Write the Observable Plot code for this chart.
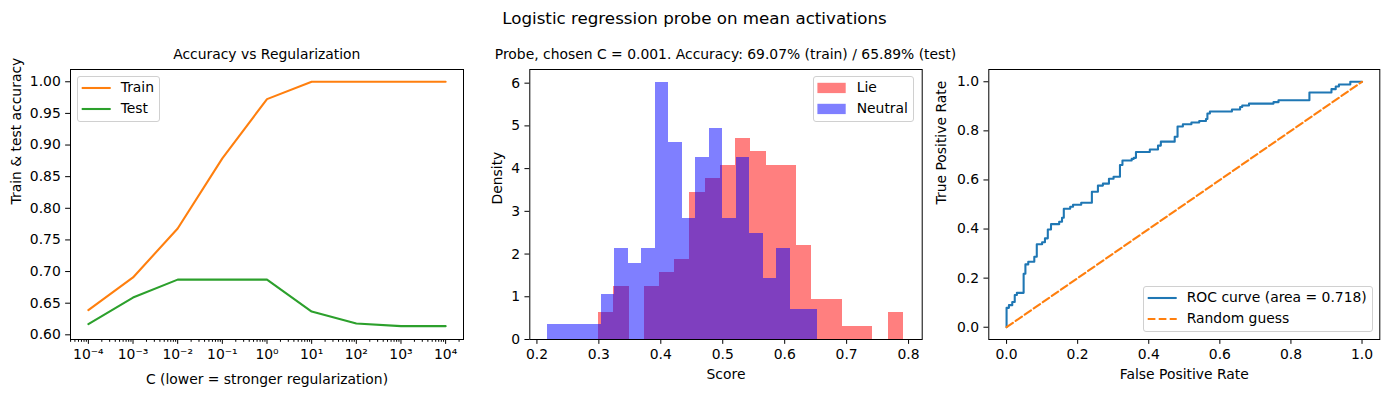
<!DOCTYPE html>
<html><head><meta charset="utf-8">
<script src="https://cdn.jsdelivr.net/npm/d3@7"></script>
<script src="https://cdn.jsdelivr.net/npm/@observablehq/plot@0.6"></script>
<style>
body{margin:0;background:#fff;font-family:"DejaVu Sans",sans-serif;}
#fig{position:relative;width:1389px;height:397px;overflow:hidden;background:#fff;}
#fig svg.panel{position:absolute;top:0;}
.t{position:absolute;white-space:nowrap;line-height:1;color:#000;font-family:"DejaVu Sans",sans-serif;}
.legend{position:absolute;border:1px solid #d0d0d0;border-radius:3px;background:rgba(255,255,255,0.8);box-sizing:border-box;}
</style></head><body><div id="fig"></div>
<script>
// ---------- data ----------
const suptitle = "Logistic regression probe on mean activations";
const panelTitles = ["Accuracy vs Regularization", "Probe, chosen C = 0.001. Accuracy: 69.07% (train) / 65.89% (test)"];

// Panel 1: accuracy vs C
const cValues = [1e-4, 1e-3, 1e-2, 1e-1, 1e0, 1e1, 1e2, 1e3, 1e4];
const trainAcc = [0.639, 0.6907, 0.768, 0.879, 0.9726, 1.0, 1.0, 1.0, 1.0];
const testAcc  = [0.617, 0.6589, 0.6873, 0.6873, 0.6873, 0.6368, 0.6179, 0.6137, 0.6137];
const accTicks = [0.60, 0.65, 0.70, 0.75, 0.80, 0.85, 0.90, 0.95, 1.00];
const accSeries = ["Train", "Test"];

// Panel 2: score histograms (density)
const lieEdges = [0.2995, 0.3241, 0.3487, 0.3733, 0.3979, 0.4225, 0.4471, 0.4717, 0.4963, 0.5209, 0.5455,
                  0.5701, 0.5947, 0.6193, 0.6439, 0.6685, 0.6931, 0.7177, 0.7423, 0.7669, 0.7914];
const lieDensity = [0.63, 1.24, 0, 1.24, 1.57, 1.88, 3.45, 3.77, 4.08, 4.71,
                    4.41, 4.08, 4.08, 2.20, 0.94, 0.94, 0.31, 0.31, 0, 0.63];
const neutralEdges = [0.2166, 0.2384, 0.2602, 0.2820, 0.3038, 0.3256, 0.3474, 0.3692, 0.3910, 0.4128, 0.4346,
                      0.4564, 0.4782, 0.5000, 0.5218, 0.5436, 0.5654, 0.5872, 0.6090, 0.6308, 0.6526];
const neutralDensity = [0.35, 0.35, 0.35, 0.35, 1.06, 2.12, 1.77, 2.12, 6.02, 4.60,
                        2.83, 4.25, 4.95, 2.83, 4.25, 2.48, 1.42, 2.12, 0.71, 0.71];
const scoreTicks = [0.2, 0.3, 0.4, 0.5, 0.6, 0.7, 0.8];
const densityTicks = [0, 1, 2, 3, 4, 5, 6];
const histSeries = ["Lie", "Neutral"];

// Panel 3: ROC
const rocFpr = [0, 0, 0.0066, 0.016, 0.023, 0.029, 0.048, 0.053, 0.061, 0.078, 0.085, 0.100, 0.108, 0.116, 0.125, 0.148,
  0.156, 0.161, 0.179, 0.187, 0.210, 0.240, 0.257, 0.271, 0.288, 0.301, 0.319, 0.326, 0.352, 0.358, 0.364, 0.403,
  0.426, 0.434, 0.473, 0.481, 0.496, 0.520, 0.542, 0.561, 0.565, 0.572, 0.634, 0.657, 0.663, 0.682, 0.751, 0.765,
  0.852, 0.914, 0.926, 0.935, 0.967, 1.0];
const rocTpr = [0, 0.079, 0.090, 0.103, 0.131, 0.140, 0.218, 0.256, 0.267, 0.287, 0.338, 0.346, 0.362, 0.398, 0.420, 0.430,
  0.446, 0.483, 0.491, 0.499, 0.507, 0.552, 0.577, 0.585, 0.605, 0.613, 0.661, 0.679, 0.686, 0.690, 0.714, 0.724,
  0.740, 0.756, 0.776, 0.818, 0.827, 0.834, 0.840, 0.848, 0.871, 0.879, 0.887, 0.897, 0.903, 0.911, 0.917, 0.925,
  0.956, 0.970, 0.981, 0.989, 1.0, 1.0];
const diagX = [0, 1];
const diagY = [0, 1];
const rateTicks = [0, 0.2, 0.4, 0.6, 0.8, 1.0];
const rocSeries = ["ROC curve (area = 0.718)", "Random guess"];

const axisLabels = {
  x1: "C (lower = stronger regularization)", y1: "Train & test accuracy",
  x2: "Score", y2: "Density",
  x3: "False Positive Rate", y3: "True Positive Rate"
};

// ---------- helpers ----------
const C_ORANGE = "#ff7f0e", C_GREEN = "#2ca02c", C_BLUE = "#1f77b4";
const FONT = "DejaVu Sans, sans-serif";
const FS = 13.9;
const baseStyle = {fontFamily: FONT, fontSize: FS + "px", color: "#000", background: "transparent", overflow: "visible"};
const TS = 4.86, TP = 4.86, LW = 2.08, DASH = "7.7,3.3";
const supMap = {"-": "\u207B", "0": "\u2070", "1": "\u00B9", "2": "\u00B2", "3": "\u00B3", "4": "\u2074",
                "5": "\u2075", "6": "\u2076", "7": "\u2077", "8": "\u2078", "9": "\u2079"};
const fmtPow = d => "10" + String(Math.round(Math.log10(d))).split("").map(ch => supMap[ch]).join("");
const minorTicks = [];
for (let k = -5; k <= 4; k++) for (let m = 2; m <= 9; m++) {
  const v = m * Math.pow(10, k);
  if (v > Math.pow(10, -4.4) && v < Math.pow(10, 4.4)) minorTicks.push(v);
}

const fig = document.getElementById("fig");
function place(svg, left) {
  svg.classList.add("panel");
  svg.style.left = left + "px";
  svg.style.position = "absolute";
  svg.style.top = "0px";
  fig.appendChild(svg);
}

// ---------- panel 1 ----------
const accData = cValues.map((c, i) => ({c, train: trainAcc[i], test: testAcc[i]}));
const p1 = Plot.plot({
  width: 480, height: 397, marginLeft: 70, marginRight: 17, marginTop: 69, marginBottom: 58,
  style: baseStyle,
  x: {type: "log", domain: [Math.pow(10, -4.4), Math.pow(10, 4.4)]},
  y: {domain: [0.5926, 1.0194]},
  marks: [
    Plot.axisX(minorTicks, {tickSize: 2.8, tickFormat: () => "", label: null}),
    Plot.axisX(cValues, {tickSize: TS, tickPadding: TP, tickFormat: fmtPow, label: null}),
    Plot.axisY(accTicks, {tickSize: TS, tickPadding: TP, tickFormat: d => d.toFixed(2), label: null}),
    Plot.line(accData, {x: "c", y: "train", stroke: C_ORANGE, strokeWidth: LW}),
    Plot.line(accData, {x: "c", y: "test", stroke: C_GREEN, strokeWidth: LW}),
    Plot.frame({stroke: "#000", strokeWidth: 1}),
    Plot.text([axisLabels.x1], {frameAnchor: "bottom", dy: 40, text: d => d, lineAnchor: "middle"}),
    Plot.text([axisLabels.y1], {frameAnchor: "left", dx: -54, rotate: -90, text: d => d, lineAnchor: "middle"})
  ]
});
place(p1, 0);

// ---------- panel 2 ----------
const toBins = (edges, dens, name) => dens.map((d, i) => ({x1: edges[i], x2: edges[i + 1], d, name}));
const lieBins = toBins(lieEdges, lieDensity, "Lie");
const neutralBins = toBins(neutralEdges, neutralDensity, "Neutral");
const p2 = Plot.plot({
  width: 460, height: 397, marginLeft: 49.3, marginRight: 18.3, marginTop: 69, marginBottom: 58,
  style: baseStyle,
  x: {domain: [0.1885, 0.822]},
  y: {domain: [0, 6.32]},
  marks: [
    Plot.rect(lieBins, {x1: "x1", x2: "x2", y1: 0, y2: "d", fill: "red", fillOpacity: 0.5, shapeRendering: "crispEdges"}),
    Plot.rect(neutralBins, {x1: "x1", x2: "x2", y1: 0, y2: "d", fill: "blue", fillOpacity: 0.5, shapeRendering: "crispEdges"}),
    Plot.axisX(scoreTicks, {tickSize: TS, tickPadding: TP, tickFormat: d => d.toFixed(1), label: null}),
    Plot.axisY(densityTicks, {tickSize: TS, tickPadding: TP, tickFormat: d => String(d), label: null}),
    Plot.frame({stroke: "#000", strokeWidth: 1}),
    Plot.text([axisLabels.x2], {frameAnchor: "bottom", dy: 35, text: d => d, lineAnchor: "middle"}),
    Plot.text([axisLabels.y2], {frameAnchor: "left", dx: -32, rotate: -90, text: d => d, lineAnchor: "middle"})
  ]
});
place(p2, 480);

// ---------- panel 3 ----------
const rocData = rocFpr.map((f, i) => ({f, t: rocTpr[i]}));
const diagData = diagX.map((x, i) => ({x, y: diagY[i]}));
const p3 = Plot.plot({
  width: 449, height: 397, marginLeft: 48.3, marginRight: 9.7, marginTop: 69, marginBottom: 58,
  style: baseStyle,
  x: {domain: [-0.05, 1.05]},
  y: {domain: [-0.05, 1.05]},
  marks: [
    Plot.line(rocData, {x: "f", y: "t", curve: "step-after", stroke: C_BLUE, strokeWidth: LW}),
    Plot.line(diagData, {x: "x", y: "y", stroke: C_ORANGE, strokeWidth: LW, strokeDasharray: DASH}),
    Plot.axisX(rateTicks, {tickSize: TS, tickPadding: TP, tickFormat: d => d.toFixed(1), label: null}),
    Plot.axisY(rateTicks, {tickSize: TS, tickPadding: TP, tickFormat: d => d.toFixed(1), label: null}),
    Plot.frame({stroke: "#000", strokeWidth: 1}),
    Plot.text([axisLabels.x3], {frameAnchor: "bottom", dy: 35, text: d => d, lineAnchor: "middle"}),
    Plot.text([axisLabels.y3], {frameAnchor: "left", dx: -47, rotate: -90, text: d => d, lineAnchor: "middle"})
  ]
});
place(p3, 940);

// ---------- titles ----------
function addText(str, cx, baseline, size) {
  const d = document.createElement("div");
  d.className = "t";
  d.textContent = str;
  d.style.fontSize = size + "px";
  d.style.top = (baseline - 0.846 * size) + "px";
  d.style.left = cx + "px";
  d.style.transform = "translateX(-50%)";
  fig.appendChild(d);
}
addText(suptitle, 694.5, 24, 16.7);
addText(panelTitles[0], 266.8, 59.3, FS);
addText(panelTitles[1], 725.5, 59.3, FS);

// ---------- legends ----------
function addLegend(left, top, w, h, items) {
  const box = document.createElement("div");
  box.className = "legend";
  Object.assign(box.style, {left: left + "px", top: top + "px", width: w + "px", height: h + "px"});
  fig.appendChild(box);
  items.forEach((it, i) => {
    const cy = top + 12 + i * 21;
    const s = document.createElementNS("http://www.w3.org/2000/svg", "svg");
    s.setAttribute("width", 32); s.setAttribute("height", 14);
    Object.assign(s.style, {position: "absolute", left: (left + 3) + "px", top: (cy - 7) + "px", overflow: "visible"});
    if (it.kind === "patch") {
      s.innerHTML = `<rect x="1.4" y="1.8" width="28.3" height="10.3" fill="${it.color}" fill-opacity="0.5"/>`;
    } else {
      s.innerHTML = `<line x1="1.7" x2="30.7" y1="7" y2="7" stroke="${it.color}" stroke-width="${LW}" ${it.dash ? `stroke-dasharray="${it.dash}"` : ""}/>`;
    }
    fig.appendChild(s);
    const t = document.createElement("div");
    t.className = "t";
    t.textContent = it.label;
    t.style.fontSize = FS + "px";
    t.style.left = (left + 43.4) + "px";
    t.style.top = (cy - 0.48 * FS) + "px";
    fig.appendChild(t);
  });
}
addLegend(77.3, 76, 83, 46, [
  {label: accSeries[0], kind: "line", color: C_ORANGE},
  {label: accSeries[1], kind: "line", color: C_GREEN}
]);
addLegend(813.3, 76, 101, 46, [
  {label: histSeries[0], kind: "patch", color: "red"},
  {label: histSeries[1], kind: "patch", color: "blue"}
]);
addLegend(1143.3, 285.7, 230, 46.5, [
  {label: rocSeries[0], kind: "line", color: C_BLUE},
  {label: rocSeries[1], kind: "line", color: C_ORANGE, dash: DASH}
]);
</script></body></html>
